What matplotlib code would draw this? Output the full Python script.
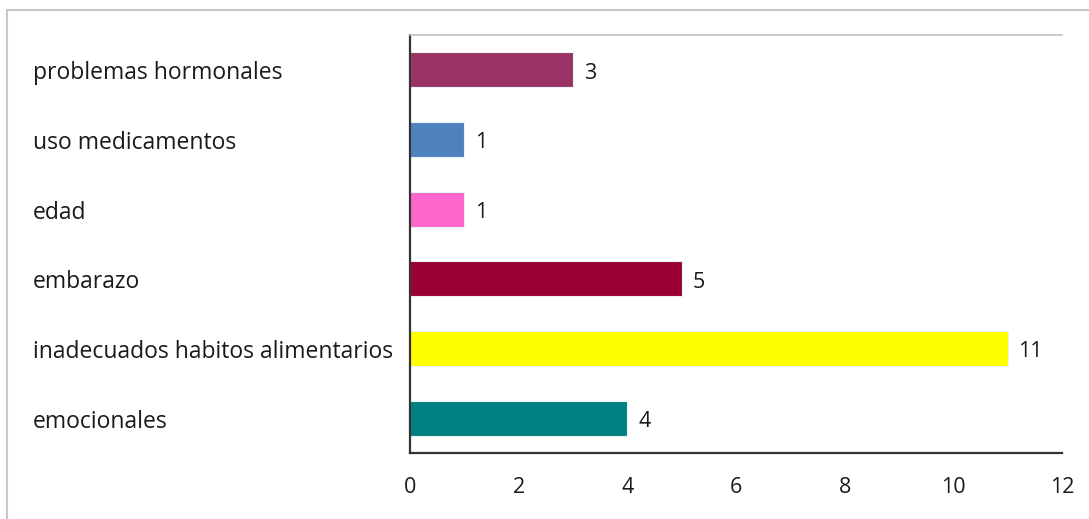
import matplotlib
matplotlib.use("Agg")
import matplotlib.pyplot as plt
import matplotlib.transforms as mtransforms
from matplotlib.patches import Rectangle

plt.rcParams['font.family'] = ['Open Sans', 'DejaVu Sans']

# categories top to bottom
categorias = ["problemas hormonales", "uso medicamentos", "edad", "embarazo",
              "inadecuados habitos alimentarios", "emocionales"]
valores = [3, 1, 1, 5, 11, 4]
colores = ["#993366", "#4F81BD", "#FF66CC", "#990033", "#FFFF00", "#008080"]
xticks = [0, 2, 4, 6, 8, 10, 12]

W, H = 1089, 519
fig = plt.figure(figsize=(W / 100, H / 100), dpi=100)

# outer frame of the chart area
fig.patches.append(Rectangle((6.5 / W, -0.1), 1.2, (H - 9.5) / H + 0.1,
                             transform=fig.transFigure, fill=False,
                             edgecolor="#c8c8c8", linewidth=1.5))

ax = fig.add_axes([410 / W, 1 - 453 / H, (1062 - 410) / W, (453 - 35) / H])

ypos = list(range(len(categorias)))[::-1]
ax.barh(ypos, valores, height=0.5, color=colores, edgecolor="#e8f4f4", linewidth=0.8)
ax.set_ylim(-0.5, len(categorias) - 0.5)
ax.set_xlim(0, 12)

for y, v in zip(ypos, valores):
    ax.text(v + 0.2, y - 0.05, str(v), va="center", ha="left", fontsize=15.5, color="#1a1a1a")

# category labels left-aligned at the frame side
trans = mtransforms.blended_transform_factory(fig.transFigure, ax.transData)
for y, c in zip(ypos, categorias):
    fig.text(33 / W, y - 0.05, c, transform=trans, va="center", ha="left",
             fontsize=16.5, color="#1a1a1a")

ax.set_yticks([])
ax.set_xticks(xticks)
ax.set_xticklabels([str(t) for t in xticks], fontsize=15.5, color="#1a1a1a")
ax.tick_params(axis="x", length=0, pad=17)

for s in ["right"]:
    ax.spines[s].set_visible(False)
ax.spines["top"].set_color("#c0c0c0")
ax.spines["top"].set_linewidth(1.2)
ax.spines["left"].set_color("#333333")
ax.spines["bottom"].set_color("#333333")
ax.spines["left"].set_linewidth(1.6)
ax.spines["bottom"].set_linewidth(1.6)

fig.savefig("out.png", dpi=100)
